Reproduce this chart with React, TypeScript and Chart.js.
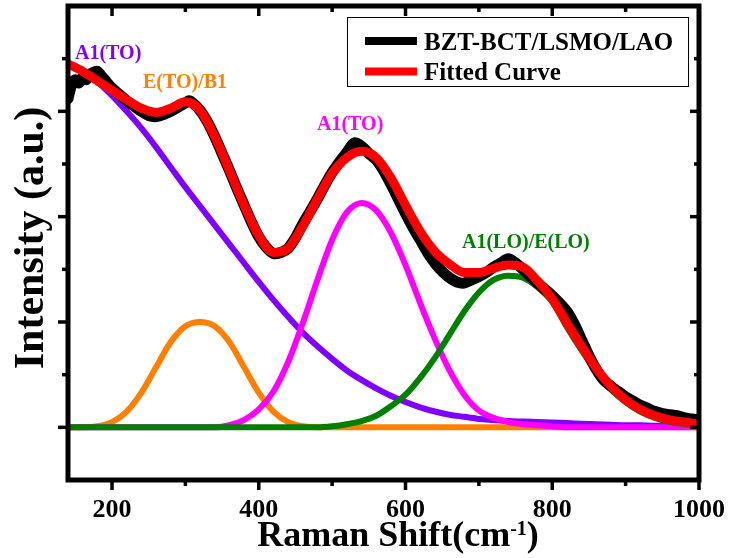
import { useEffect, useRef } from "react";
import { Chart, registerables } from "chart.js";

Chart.register(...registerables);

// Raman shift grid (cm-1) shared by the fitted curve and its peak components
const shiftGrid = [
  140, 160, 180, 200, 220, 240, 260, 280, 300, 320, 340, 360, 380, 400, 420,
  440, 460, 480, 500, 520, 540, 560, 580, 600, 620, 640, 660, 680, 700, 720,
  740, 760, 780, 800, 820, 840, 860, 880, 900, 920, 940, 960, 980, 1000,
];

// Fitted curve (sum of peaks), arbitrary units
const fittedCurve = [
  3.45, 3.38, 3.29, 3.2, 3.11, 3.03, 2.99, 3.03, 3.09, 3.01, 2.76, 2.44, 2.11, 1.82, 1.66,
  1.7, 1.91, 2.17, 2.41, 2.56, 2.62, 2.56, 2.37, 2.11, 1.86, 1.67, 1.55, 1.47, 1.47, 1.51,
  1.54, 1.52, 1.39, 1.22, 0.99, 0.77, 0.56, 0.39, 0.26, 0.17, 0.11, 0.07, 0.05, 0.03,
];

// A1(TO) low-frequency band
const peakA1TOLow = [
  3.45, 3.38, 3.28, 3.15, 3.0, 2.84, 2.66, 2.47, 2.28, 2.1, 1.92, 1.74, 1.56, 1.38, 1.21,
  1.05, 0.9, 0.77, 0.65, 0.54, 0.45, 0.37, 0.3, 0.24, 0.19, 0.15, 0.12, 0.1, 0.08, 0.07,
  0.06, 0.055, 0.05, 0.045, 0.04, 0.035, 0.03, 0.025, 0.02, 0.02, 0.015, 0.015, 0.01, 0.01,
];

// E(TO)/B1 band
const peakETOB1 = [
  0, 0, 0.01, 0.05, 0.15, 0.33, 0.57, 0.81, 0.96, 1.0, 0.96, 0.81, 0.57, 0.33, 0.15,
  0.05, 0.01, 0, 0, 0, 0, 0, 0, 0, 0, 0, 0, 0, 0, 0,
  0, 0, 0, 0, 0, 0, 0, 0, 0, 0, 0, 0, 0, 0,
];

// A1(TO) band near 540 cm-1
const peakA1TO = [
  0, 0, 0, 0, 0, 0, 0, 0, 0, 0, 0, 0.02, 0.07, 0.17, 0.34,
  0.62, 0.99, 1.4, 1.78, 2.04, 2.13, 2.06, 1.85, 1.54, 1.18, 0.84, 0.54, 0.31, 0.16, 0.09,
  0.05, 0.03, 0.02, 0.01, 0, 0, 0, 0, 0, 0, 0, 0, 0, 0,
];

// A1(LO)/E(LO) band
const peakA1LOELO = [
  0, 0, 0, 0, 0, 0, 0, 0, 0, 0, 0, 0, 0, 0, 0,
  0, 0, 0, 0.01, 0.03, 0.06, 0.11, 0.2, 0.31, 0.47, 0.66, 0.88, 1.1, 1.28, 1.4,
  1.44, 1.42, 1.33, 1.19, 0.95, 0.73, 0.53, 0.36, 0.24, 0.15, 0.09, 0.05, 0.03, 0.02,
];

// Measured spectrum BZT-BCT/LSMO/LAO
const measuredShift = [
  140, 145, 150, 155, 160, 165, 170, 175, 180, 185, 190, 200, 210, 220, 230, 240, 250, 260,
  270, 280, 290, 300, 305, 310, 320, 330, 340, 350, 360, 370, 380, 390, 400, 410, 420, 430,
  440, 450, 460, 470, 480, 490, 500, 510, 520, 530, 540, 550, 560, 570, 580, 590, 600, 610,
  620, 630, 640, 650, 660, 670, 680, 690, 700, 710, 720, 730, 740, 750, 760, 770, 780, 790,
  800, 810, 820, 830, 840, 850, 860, 870, 880, 890, 900, 910, 920, 930, 940, 950, 960, 970,
  980, 990, 1000,
];
const measuredIntensity = [
  3.12, 3.25, 3.3, 3.27, 3.32, 3.3, 3.35, 3.37, 3.38, 3.34, 3.3, 3.22, 3.16, 3.1, 3.05, 3.0, 2.96, 2.95,
  2.97, 3.0, 3.04, 3.08, 3.1, 3.08, 3.01, 2.9, 2.76, 2.6, 2.44, 2.27, 2.11, 1.95, 1.81, 1.71, 1.65, 1.66,
  1.7, 1.8, 1.93, 2.05, 2.17, 2.3, 2.42, 2.52, 2.61, 2.7, 2.67, 2.6, 2.54, 2.44, 2.31, 2.17, 2.03, 1.9,
  1.78, 1.66, 1.56, 1.48, 1.42, 1.38, 1.37, 1.4, 1.43, 1.47, 1.52, 1.56, 1.6, 1.56, 1.5, 1.43, 1.37, 1.31,
  1.25, 1.18, 1.1, 0.98, 0.83, 0.68, 0.55, 0.45, 0.39, 0.34, 0.29, 0.25, 0.21, 0.18, 0.15, 0.13, 0.12, 0.11,
  0.09, 0.08, 0.07,
];

const xMajorTicks = [200, 400, 600, 800, 1000];
const xMinorTicks = [300, 500, 700, 900];
const yMajorTicks = [0, 1, 2, 3];
const yMinorTicks = [0.5, 1.5, 2.5, 3.5];

const legendItems = [
  { label: "BZT-BCT/LSMO/LAO", color: "#000000" },
  { label: "Fitted Curve", color: "#ff0000" },
];

const peakLabels = [
  { text: "A1(TO)", color: "#8000ff", x: 75, y: 59 },
  { text: "E(TO)/B1", color: "#ff8000", x: 143, y: 88 },
  { text: "A1(TO)", color: "#ff00ff", x: 317, y: 130 },
  { text: "A1(LO)/E(LO)", color: "#008000", x: 462, y: 248 },
];

const SERIF = '"Liberation Serif", "Times New Roman", Times, serif';

const toPoints = (xs: number[], ys: number[]) => xs.map((x, i) => ({ x, y: ys[i] }));

const frameAndTextPlugin = {
  id: "frameAndText",
  afterDatasetsDraw(chart: any) {
    const { ctx, chartArea: a, scales } = chart;
    const xs = scales.x;
    const ys = scales.y;
    ctx.save();

    // plot frame
    ctx.strokeStyle = "#000";
    ctx.lineWidth = 5;
    ctx.strokeRect(a.left, a.top, a.right - a.left, a.bottom - a.top);

    // tick marks: outward on bottom/left, inward on top/right
    ctx.lineWidth = 3.5;
    const seg = (x1: number, y1: number, x2: number, y2: number) => {
      ctx.beginPath();
      ctx.moveTo(x1, y1);
      ctx.lineTo(x2, y2);
      ctx.stroke();
    };
    xMajorTicks.forEach((v) => {
      const px = xs.getPixelForValue(v);
      seg(px, a.bottom, px, a.bottom + 10);
      seg(px, a.top, px, a.top + 10);
    });
    xMinorTicks.forEach((v) => {
      const px = xs.getPixelForValue(v);
      seg(px, a.bottom, px, a.bottom + 6);
      seg(px, a.top, px, a.top + 6);
    });
    yMajorTicks.forEach((v) => {
      const py = ys.getPixelForValue(v);
      seg(a.left - 10, py, a.left, py);
      seg(a.right - 9, py, a.right, py);
    });
    yMinorTicks.forEach((v) => {
      const py = ys.getPixelForValue(v);
      seg(a.left - 6, py, a.left, py);
      seg(a.right - 5, py, a.right, py);
    });

    // x tick labels
    ctx.fillStyle = "#000";
    ctx.font = `bold 26px ${SERIF}`;
    ctx.textAlign = "center";
    ctx.textBaseline = "alphabetic";
    xMajorTicks.forEach((v) => {
      ctx.fillText(String(v), xs.getPixelForValue(v), 517);
    });

    // x axis title with superscript
    const mainFont = `bold 36px ${SERIF}`;
    const supFont = `bold 20px ${SERIF}`;
    ctx.textAlign = "left";
    ctx.font = mainFont;
    const part1 = "Raman Shift(cm";
    const w1 = ctx.measureText(part1).width;
    ctx.font = supFont;
    const sup = "-1";
    const w2 = ctx.measureText(sup).width;
    ctx.font = mainFont;
    const w3 = ctx.measureText(")").width;
    const total = w1 + w2 + w3;
    let tx = 398 - total / 2;
    ctx.fillText(part1, tx, 546);
    tx += w1;
    ctx.font = supFont;
    ctx.fillText(sup, tx, 535);
    tx += w2;
    ctx.font = mainFont;
    ctx.fillText(")", tx, 546);

    // y axis title
    ctx.save();
    ctx.translate(43, 238);
    ctx.rotate(-Math.PI / 2);
    ctx.font = `bold 42px ${SERIF}`;
    ctx.textAlign = "center";
    ctx.fillText("Intensity (a.u.)", 0, 0);
    ctx.restore();

    // peak labels
    ctx.font = `bold 20px ${SERIF}`;
    ctx.textAlign = "left";
    peakLabels.forEach((p) => {
      ctx.fillStyle = p.color;
      ctx.fillText(p.text, p.x, p.y);
    });

    // legend
    ctx.fillStyle = "#fff";
    ctx.fillRect(347, 17, 341, 69);
    ctx.strokeStyle = "#000";
    ctx.lineWidth = 1;
    ctx.strokeRect(347.5, 17.5, 341, 69);
    ctx.font = `bold 25px ${SERIF}`;
    legendItems.forEach((item, i) => {
      const ly = 41 + i * 30.5;
      ctx.strokeStyle = item.color;
      ctx.lineWidth = 8;
      ctx.beginPath();
      ctx.moveTo(365, ly);
      ctx.lineTo(417, ly);
      ctx.stroke();
      ctx.fillStyle = "#000";
      ctx.fillText(item.label, 424, ly + 8.5);
    });

    ctx.restore();
  },
};

export default function App() {
  const canvasRef = useRef<HTMLCanvasElement | null>(null);

  useEffect(() => {
    const canvas = canvasRef.current;
    if (!canvas) return;
    const common = { pointRadius: 0, fill: false, borderJoinStyle: "round" as const, borderCapStyle: "round" as const };
    const chart = new Chart(canvas, {
      type: "line",
      data: {
        datasets: [
          { label: "Fitted Curve", data: toPoints(shiftGrid, fittedCurve), borderColor: "#ff0000", borderWidth: 9, cubicInterpolationMode: "monotone", ...common },
          { label: "BZT-BCT/LSMO/LAO", data: toPoints(measuredShift, measuredIntensity), borderColor: "#000000", borderWidth: 11, tension: 0.3, ...common },
          { label: "A1(LO)/E(LO)", data: toPoints(shiftGrid, peakA1LOELO), borderColor: "#008000", borderWidth: 6, cubicInterpolationMode: "monotone", ...common },
          { label: "A1(TO)", data: toPoints(shiftGrid, peakA1TO), borderColor: "#ff00ff", borderWidth: 6, cubicInterpolationMode: "monotone", ...common },
          { label: "A1(TO) low", data: toPoints(shiftGrid, peakA1TOLow), borderColor: "#8000ff", borderWidth: 6, cubicInterpolationMode: "monotone", ...common },
          { label: "E(TO)/B1", data: toPoints(shiftGrid, peakETOB1), borderColor: "#ff8000", borderWidth: 6, cubicInterpolationMode: "monotone", ...common },
        ],
      },
      options: {
        responsive: false,
        animation: false,
        devicePixelRatio: 1,
        layout: { padding: { left: 68, right: 31, top: 6, bottom: 78 } },
        scales: {
          x: { type: "linear", min: 140, max: 1000, display: false },
          y: { type: "linear", min: -0.5, max: 4, display: false },
        },
        plugins: {
          legend: { display: false },
          tooltip: { enabled: false },
        },
      },
      plugins: [frameAndTextPlugin],
    });
    return () => chart.destroy();
  }, []);

  return (
    <div style={{ position: "absolute", left: 0, top: 0, width: 730, height: 558, background: "#fff" }}>
      <canvas ref={canvasRef} width={730} height={558} style={{ display: "block" }} />
    </div>
  );
}
